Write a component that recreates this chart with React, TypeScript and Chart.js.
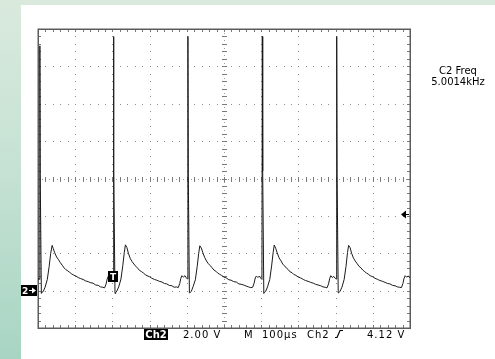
import React, { useEffect, useRef } from "react";
import { Chart, registerables } from "chart.js";

Chart.register(...registerables);

// Time axis (µs) and vertical axis (V)
const X_MIN = 0;
const X_MAX = 1000; // 10 div × 100 µs
const X_DIV = 100;
const Y_MIN = -2;
const Y_MAX = 14; // 8 div × 2 V
const Y_DIV = 2;

// Channel 2 trace: time in µs
const timeUs: number[] = [
  0, 2, 4, 5, 6, 9, 11, 14, 19, 25, 30, 34, 38, 41, 45, 50, 55, 60, 65, 70, 75, 80, 85, 90, 95, 102, 108, 115, 121, 128, 135, 142, 148, 155, 162, 168, 174, 179, 183, 186, 189, 193, 197, 200, 202,
  203, 204, 207, 209, 212, 217, 223, 228, 232, 235, 239, 243, 248, 253, 258, 263, 268, 273, 278, 283, 288, 293, 300, 306, 313, 319, 326, 333, 340, 346, 353, 360, 366, 372, 377, 381, 384, 387, 391, 395, 399, 402,
  403, 404, 407, 409, 412, 417, 423, 428, 432, 435, 439, 443, 448, 453, 458, 463, 468, 473, 478, 483, 488, 493, 500, 506, 513, 519, 526, 533, 540, 546, 553, 560, 566, 572, 577, 581, 584, 587, 591, 595, 599, 602,
  603, 604, 607, 609, 612, 617, 623, 628, 632, 635, 639, 643, 648, 653, 658, 663, 668, 673, 678, 683, 688, 693, 700, 706, 713, 719, 726, 733, 740, 746, 753, 760, 766, 772, 777, 781, 784, 787, 791, 795, 799, 802,
  803, 804, 807, 809, 812, 817, 823, 828, 832, 835, 839, 843, 848, 853, 858, 863, 868, 873, 878, 883, 888, 893, 900, 906, 913, 919, 926, 933, 940, 946, 953, 960, 966, 972, 977, 981, 984, 987, 991, 995, 999, 1000,
];

// Channel 2 trace: volts
const volts: number[] = [
  0.62, 0.66, 0.6, 13.1, 6.2, -0.15, -0.08, -0.05, 0.18, 0.6, 1.3, 1.98, 2.42, 2.25, 2.02, 1.8, 1.66, 1.5, 1.36, 1.22, 1.12, 1.06, 0.98, 0.9, 0.84, 0.78, 0.7, 0.64, 0.6, 0.52, 0.48, 0.42, 0.4, 0.3, 0.28, 0.2, 0.18, 0.15, 0.35, 0.62, 0.78, 0.7, 0.76, 0.66, 0.6,
  13.6, 6.4, -0.15, -0.1, -0.02, 0.2, 0.62, 1.35, 2.05, 2.45, 2.3, 2.0, 1.72, 1.55, 1.42, 1.3, 1.2, 1.08, 1.02, 0.95, 0.86, 0.8, 0.74, 0.66, 0.6, 0.56, 0.5, 0.46, 0.38, 0.36, 0.28, 0.26, 0.18, 0.2, 0.16, 0.38, 0.66, 0.8, 0.72, 0.8, 0.68, 0.62,
  13.6, 6.3, -0.12, -0.1, -0.05, 0.22, 0.58, 1.3, 2.0, 2.4, 2.28, 2.04, 1.78, 1.58, 1.44, 1.34, 1.22, 1.1, 1.04, 0.94, 0.88, 0.82, 0.72, 0.68, 0.58, 0.56, 0.48, 0.46, 0.36, 0.34, 0.3, 0.24, 0.2, 0.16, 0.18, 0.4, 0.68, 0.78, 0.7, 0.78, 0.66, 0.6,
  13.6, 6.4, -0.15, -0.08, -0.04, 0.2, 0.6, 1.32, 2.02, 2.44, 2.26, 2.02, 1.76, 1.6, 1.42, 1.32, 1.2, 1.12, 1.0, 0.96, 0.86, 0.82, 0.72, 0.68, 0.6, 0.54, 0.5, 0.44, 0.4, 0.34, 0.3, 0.26, 0.2, 0.18, 0.15, 0.36, 0.64, 0.8, 0.7, 0.76, 0.66, 0.62,
  13.6, 6.3, -0.12, -0.1, -0.03, 0.18, 0.6, 1.3, 2.04, 2.42, 2.3, 2.0, 1.74, 1.58, 1.44, 1.3, 1.22, 1.1, 1.02, 0.94, 0.88, 0.8, 0.74, 0.66, 0.6, 0.54, 0.5, 0.44, 0.38, 0.36, 0.28, 0.26, 0.2, 0.18, 0.16, 0.38, 0.66, 0.8, 0.72, 0.78, 0.7, 0.68,
];

const groundLevelV = 0;
const triggerLevelV = 4.12;
const triggerTimeUs = 203;

const measLabel = "C2 Freq";
const measValue = "5.0014kHz";
const chLabel = "Ch2";
const voltsPerDiv = "2.00 V";
const timebaseLabel = "M";
const timePerDiv = "100µs";
const trigSource = "Ch2";
const trigLevelLabel = "4.12 V";

const FONT = '"DejaVu Sans", sans-serif';

const graticule = {
  id: "graticule",
  beforeDatasetsDraw(chart: any) {
    const { ctx, chartArea: a, scales } = chart;
    const xs = scales.x;
    const ys = scales.y;
    const nx = (X_MAX - X_MIN) / X_DIV;
    const ny = (Y_MAX - Y_MIN) / Y_DIV;
    const px = (v: number) => Math.round(xs.getPixelForValue(v));
    const py = (v: number) => Math.round(ys.getPixelForValue(v));
    const xCenter = X_MIN + (nx / 2) * X_DIV;
    const yCenter = Y_MIN + (ny / 2) * Y_DIV;
    ctx.save();

    // dotted major grid lines
    ctx.fillStyle = "#8c8c8c";
    for (let i = 1; i < nx; i++) {
      if (i === nx / 2) continue;
      const gx = px(X_MIN + i * X_DIV);
      for (let j = 1; j < ny * 5; j++) {
        ctx.fillRect(gx, py(Y_MIN + (j * Y_DIV) / 5), 1, 1);
      }
    }
    for (let j = 1; j < ny; j++) {
      if (j === ny / 2) continue;
      const gy = py(Y_MIN + j * Y_DIV);
      for (let i = 1; i < nx * 5; i++) {
        ctx.fillRect(px(X_MIN + (i * X_DIV) / 5), gy, 1, 1);
      }
    }

    // center lines: fine dots + minor ticks
    const cx = px(xCenter);
    const cy = py(yCenter);
    ctx.fillStyle = "#9a9a9a";
    for (let j = 1; j < ny * 10; j++) ctx.fillRect(cx, py(Y_MIN + (j * Y_DIV) / 10), 1, 1);
    for (let i = 1; i < nx * 10; i++) ctx.fillRect(px(X_MIN + (i * X_DIV) / 10), cy, 1, 1);
    ctx.fillStyle = "#7a7a7a";
    for (let j = 1; j < ny * 5; j++) ctx.fillRect(cx - 2, py(Y_MIN + (j * Y_DIV) / 5), 5, 1);
    for (let i = 1; i < nx * 5; i++) ctx.fillRect(px(X_MIN + (i * X_DIV) / 5), cy - 2, 1, 5);

    // border minor ticks
    ctx.fillStyle = "#7a7a7a";
    for (let i = 1; i < nx * 5; i++) {
      const tx = px(X_MIN + (i * X_DIV) / 5);
      ctx.fillRect(tx, a.top, 1, 3);
      ctx.fillRect(tx, a.bottom - 3, 1, 3);
    }
    for (let j = 1; j < ny * 5; j++) {
      const ty = py(Y_MIN + (j * Y_DIV) / 5);
      ctx.fillRect(a.left, ty, 3, 1);
      ctx.fillRect(a.right - 3, ty, 3, 1);
    }

    // border
    ctx.strokeStyle = "#5c5c5c";
    ctx.lineWidth = 1.5;
    ctx.strokeRect(a.left + 0.25, a.top + 0.25, a.right - a.left, a.bottom - a.top);
    ctx.restore();
  },
  afterDraw(chart: any) {
    const { ctx, chartArea: a, scales } = chart;
    const xs = scales.x;
    const ys = scales.y;
    ctx.save();
    ctx.textBaseline = "alphabetic";

    // measurement readout
    ctx.fillStyle = "#000";
    ctx.font = `10px ${FONT}`;
    ctx.textAlign = "center";
    ctx.fillText(measLabel, 458, 74);
    ctx.fillText(measValue, 458, 85);

    // ground marker "2→"
    const gy = Math.round(ys.getPixelForValue(groundLevelV));
    ctx.fillStyle = "#000";
    ctx.fillRect(21, gy - 6, 16, 11);
    ctx.fillStyle = "#fff";
    ctx.font = `bold 9px ${FONT}`;
    ctx.textAlign = "left";
    ctx.fillText("2", 22, gy + 3);
    ctx.fillRect(29, gy - 1, 4, 1);
    ctx.beginPath();
    ctx.moveTo(36, gy - 0.5);
    ctx.lineTo(32, gy - 3.5);
    ctx.lineTo(32, gy + 2.5);
    ctx.closePath();
    ctx.fill();

    // trigger position marker "T"
    const tx = Math.round(xs.getPixelForValue(triggerTimeUs));
    ctx.fillStyle = "#000";
    ctx.fillRect(tx - 6, 271, 10, 11);
    ctx.fillStyle = "#fff";
    ctx.font = `bold 9px ${FONT}`;
    ctx.textAlign = "center";
    ctx.fillText("T", tx - 1, 280);

    // trigger level arrow
    const ty = Math.round(ys.getPixelForValue(triggerLevelV));
    ctx.fillStyle = "#000";
    ctx.beginPath();
    ctx.moveTo(a.right - 9, ty + 0.5);
    ctx.lineTo(a.right - 4, ty - 3.5);
    ctx.lineTo(a.right - 4, ty + 4.5);
    ctx.closePath();
    ctx.fill();
    ctx.fillRect(a.right - 5, ty, 4, 1);

    // bottom status line
    ctx.fillStyle = "#000";
    ctx.fillRect(144, 329, 24, 11);
    ctx.fillStyle = "#fff";
    ctx.font = `bold 10px ${FONT}`;
    ctx.textAlign = "center";
    ctx.fillText(chLabel, 156, 338);
    ctx.fillStyle = "#000";
    ctx.font = `10px ${FONT}`;
    ctx.textAlign = "left";
    (ctx as any).letterSpacing = "1px";
    ctx.fillText(voltsPerDiv, 183, 338);
    ctx.fillText(timebaseLabel, 244, 338);
    ctx.fillText(timePerDiv, 262, 338);
    ctx.fillText(trigSource, 307, 338);
    ctx.fillText(trigLevelLabel, 367, 338);
    (ctx as any).letterSpacing = "0px";
    // rising-edge symbol
    ctx.strokeStyle = "#000";
    ctx.lineWidth = 1.2;
    ctx.beginPath();
    ctx.moveTo(335, 337.5);
    ctx.lineTo(337, 337.5);
    ctx.lineTo(340, 330.5);
    ctx.lineTo(343, 330.5);
    ctx.stroke();
    ctx.restore();
  },
};

export default function App() {
  const ref = useRef<HTMLCanvasElement | null>(null);
  useEffect(() => {
    if (!ref.current) return;
    const chart = new Chart(ref.current, {
      type: "line",
      data: {
        datasets: [
          {
            data: timeUs.map((t, i) => ({ x: t, y: volts[i] })),
            borderColor: "#1a1a1a",
            borderWidth: 1,
            pointRadius: 0,
            tension: 0,
            fill: false,
          },
        ],
      },
      options: {
        responsive: false,
        animation: false,
        devicePixelRatio: 1,
        layout: { padding: { left: 38, top: 29, right: 85, bottom: 31 } },
        scales: {
          x: { type: "linear", min: X_MIN, max: X_MAX, display: false },
          y: { type: "linear", min: Y_MIN, max: Y_MAX, display: false },
        },
        plugins: { legend: { display: false }, tooltip: { enabled: false } },
      },
      plugins: [graticule],
    });
    return () => chart.destroy();
  }, []);

  return (
    <div style={{ position: "fixed", left: 0, top: 0, width: 495, height: 359, background: "#fff", overflow: "hidden" }}>
      <div style={{ position: "absolute", left: 0, top: 0, width: 495, height: 5, background: "#d9eadd" }} />
      <div
        style={{
          position: "absolute",
          left: 0,
          top: 0,
          width: 21,
          height: 359,
          background: "linear-gradient(to bottom, #d9eadd 0%, #c4e1d3 50%, #a8d5c3 100%)",
        }}
      />
      <canvas ref={ref} width={495} height={359} style={{ position: "absolute", left: 0, top: 0, display: "block" }} />
    </div>
  );
}
